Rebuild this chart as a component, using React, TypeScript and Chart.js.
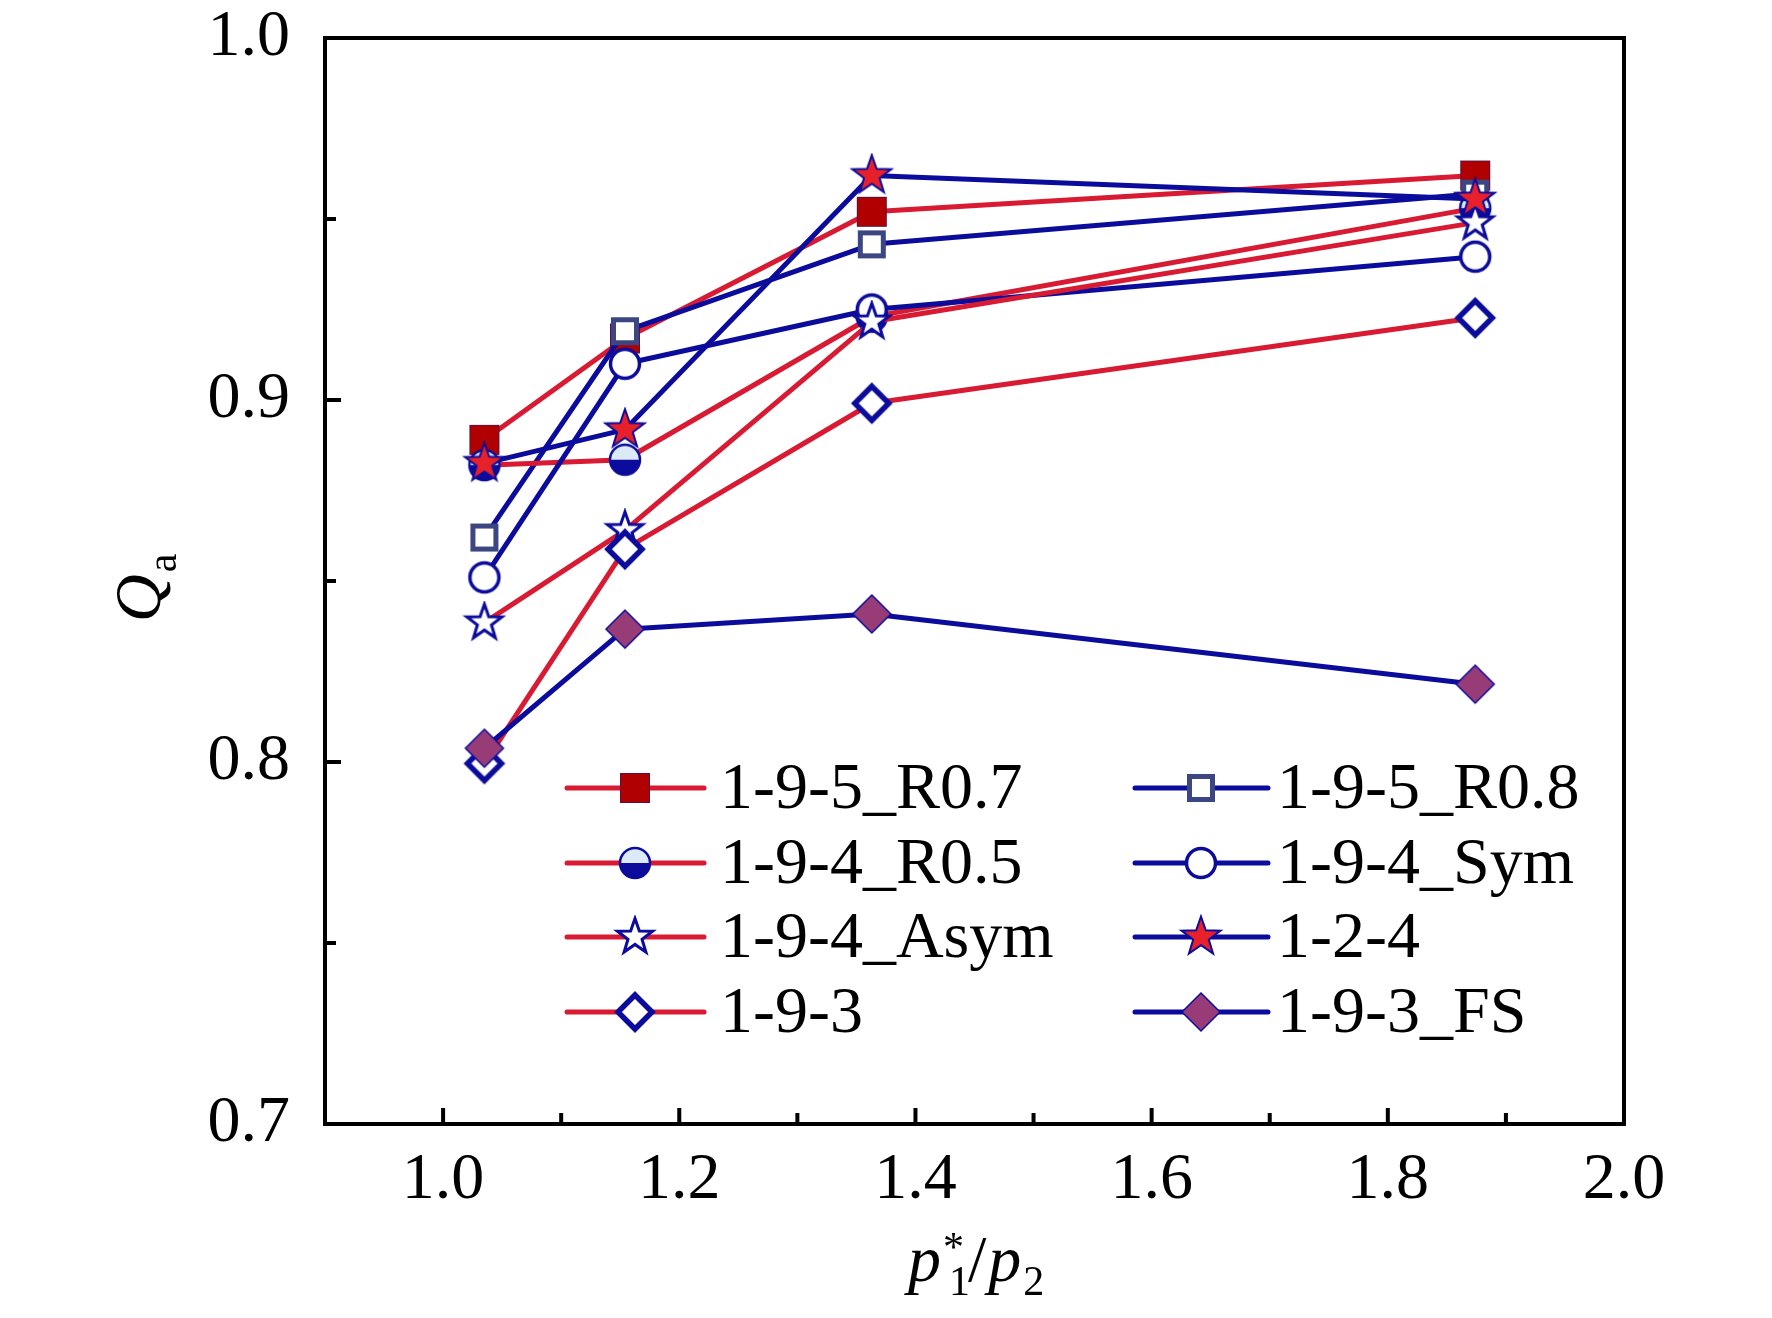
import { useEffect, useRef } from "react"
import { Chart, registerables } from "chart.js"

Chart.register(...registerables)

// datos
const xValues = [1.035, 1.154, 1.363, 1.874]
const seriesNames = ["1-9-5_R0.7", "1-9-5_R0.8", "1-9-4_R0.5", "1-9-4_Sym", "1-9-4_Asym", "1-2-4", "1-9-3", "1-9-3_FS"]
const r07Values = [0.889, 0.917, 0.952, 0.962]
const r08Values = [0.862, 0.919, 0.943, 0.957]
const r05Values = [0.882, 0.8835, 0.923, 0.953]
const symValues = [0.851, 0.91, 0.925, 0.9396]
const asymValues = [0.8385, 0.864, 0.9216, 0.949]
const s124Values = [0.8825, 0.8918, 0.962, 0.9555]
const s193Values = [0.7996, 0.8588, 0.8991, 0.9227]
const fsValues = [0.8038, 0.8367, 0.8409, 0.8215]
const xTicks = [1.0, 1.2, 1.4, 1.6, 1.8, 2.0]
const xMinorTicks = [1.1, 1.3, 1.5, 1.7, 1.9]
const yTicks = [0.7, 0.8, 0.9, 1.0]
const yMinorTicks = [0.75, 0.85, 0.95]

const RED = "#D81A32"
const NAVY = "#0C0C9C"
const FONT = "'Liberation Serif', 'Times New Roman', serif"

function makeMarker(size: number, draw: (ctx: CanvasRenderingContext2D, c: number) => void) {
    const cv = document.createElement("canvas")
    cv.width = size
    cv.height = size
    const ctx = cv.getContext("2d")!
    draw(ctx, size / 2)
    return cv
}

function starPath(ctx: CanvasRenderingContext2D, c: number, R: number) {
    const r = R * 0.4
    ctx.beginPath()
    for (let i = 0; i < 10; i++) {
        const rad = i % 2 === 0 ? R : r
        const a = -Math.PI / 2 + (i * Math.PI) / 5
        ctx.lineTo(c + rad * Math.cos(a), c + rad * Math.sin(a))
    }
    ctx.closePath()
}

function diamondPath(ctx: CanvasRenderingContext2D, c: number, h: number) {
    ctx.beginPath()
    ctx.moveTo(c, c - h)
    ctx.lineTo(c + h, c)
    ctx.lineTo(c, c + h)
    ctx.lineTo(c - h, c)
    ctx.closePath()
}

function buildMarkers() {
    const squareFilled = makeMarker(32, (ctx, c) => {
        ctx.fillStyle = "#B00000"
        ctx.fillRect(c - 14.5, c - 14.5, 29, 29)
        ctx.strokeStyle = "#5A1040"
        ctx.lineWidth = 1
        ctx.strokeRect(c - 14.5, c - 14.5, 29, 29)
    })
    const squareHollow = makeMarker(32, (ctx, c) => {
        ctx.fillStyle = "#fff"
        ctx.fillRect(c - 14, c - 14, 28, 28)
        ctx.strokeStyle = "#3C4682"
        ctx.lineWidth = 5
        ctx.strokeRect(c - 11.5, c - 11.5, 23, 23)
    })
    const halfCircle = makeMarker(36, (ctx, c) => {
        ctx.fillStyle = "#DCEAF8"
        ctx.beginPath()
        ctx.arc(c, c, 15.5, Math.PI, 0)
        ctx.closePath()
        ctx.fill()
        ctx.fillStyle = NAVY
        ctx.beginPath()
        ctx.arc(c, c, 15.5, 0, Math.PI)
        ctx.closePath()
        ctx.fill()
        ctx.strokeStyle = NAVY
        ctx.lineWidth = 2.5
        ctx.beginPath()
        ctx.arc(c, c, 15, 0, Math.PI * 2)
        ctx.stroke()
    })
    const circleHollow = makeMarker(36, (ctx, c) => {
        ctx.fillStyle = "#fff"
        ctx.strokeStyle = NAVY
        ctx.lineWidth = 3.5
        ctx.beginPath()
        ctx.arc(c, c, 14.5, 0, Math.PI * 2)
        ctx.fill()
        ctx.stroke()
    })
    const starHollow = makeMarker(44, (ctx, c) => {
        starPath(ctx, c, 18.5)
        ctx.fillStyle = "#fff"
        ctx.fill()
        ctx.strokeStyle = NAVY
        ctx.lineWidth = 3
        ctx.lineJoin = "miter"
        ctx.stroke()
    })
    const starRed = makeMarker(46, (ctx, c) => {
        starPath(ctx, c, 20.5)
        ctx.fillStyle = "#E8202A"
        ctx.fill()
        ctx.strokeStyle = NAVY
        ctx.lineWidth = 2
        ctx.stroke()
    })
    const diamondHollow = makeMarker(44, (ctx, c) => {
        diamondPath(ctx, c, 17)
        ctx.fillStyle = "#fff"
        ctx.fill()
        ctx.strokeStyle = NAVY
        ctx.lineWidth = 5.5
        ctx.stroke()
    })
    const diamondFilled = makeMarker(44, (ctx, c) => {
        diamondPath(ctx, c, 19)
        ctx.fillStyle = "#983C78"
        ctx.fill()
        ctx.strokeStyle = NAVY
        ctx.lineWidth = 1.5
        ctx.stroke()
    })
    return [squareFilled, squareHollow, halfCircle, circleHollow, starHollow, starRed, diamondHollow, diamondFilled]
}

const legendCols = [
    { lineStart: 567, lineEnd: 704, marker: 635, text: 720 },
    { lineStart: 1135, lineEnd: 1268, marker: 1201, text: 1277 },
]
const legendRows = [788, 863, 937, 1012]

const decorPlugin = {
    id: "decor",
    afterDraw(chart: any) {
        const { ctx, chartArea: a, scales } = chart
        const xs = scales.x
        const ys = scales.y
        ctx.save()
        ctx.strokeStyle = "#000"
        ctx.lineWidth = 4
        ctx.lineCap = "butt"
        ctx.beginPath()
        xTicks.forEach((v) => {
            const px = xs.getPixelForValue(v)
            ctx.moveTo(px, a.bottom)
            ctx.lineTo(px, a.bottom - 16)
        })
        xMinorTicks.forEach((v) => {
            const px = xs.getPixelForValue(v)
            ctx.moveTo(px, a.bottom)
            ctx.lineTo(px, a.bottom - 11)
        })
        yTicks.forEach((v) => {
            const py = ys.getPixelForValue(v)
            ctx.moveTo(a.left, py)
            ctx.lineTo(a.left + 16, py)
        })
        yMinorTicks.forEach((v) => {
            const py = ys.getPixelForValue(v)
            ctx.moveTo(a.left, py)
            ctx.lineTo(a.left + 11, py)
        })
        ctx.stroke()
        ctx.lineJoin = "miter"
        ctx.strokeRect(a.left, a.top, a.right - a.left, a.bottom - a.top)

        // leyenda
        chart.data.datasets.forEach((ds: any, i: number) => {
            const col = legendCols[i % 2]
            const y = legendRows[Math.floor(i / 2)]
            ctx.strokeStyle = ds.borderColor
            ctx.lineWidth = ds.borderWidth
            ctx.lineCap = "round"
            ctx.beginPath()
            ctx.moveTo(col.lineStart, y)
            ctx.lineTo(col.lineEnd, y)
            ctx.stroke()
            const img = ds.pointStyle
            ctx.drawImage(img, col.marker - img.width / 2, y - img.height / 2)
            ctx.fillStyle = "#000"
            ctx.font = `66px ${FONT}`
            ctx.textBaseline = "alphabetic"
            ctx.textAlign = "left"
            ctx.fillText(ds.label, col.text, y + 20)
        })

        // título eje x: p1*/p2
        ctx.fillStyle = "#000"
        ctx.textBaseline = "alphabetic"
        ctx.textAlign = "left"
        const base = 1281
        let x = 908
        ctx.font = `italic 66px ${FONT}`
        ctx.fillText("p", x, base)
        x += ctx.measureText("p").width
        ctx.font = `42px ${FONT}`
        ctx.fillText("*", x + 2, base - 20)
        ctx.fillText("1", x + 8, base + 14)
        x += 8 + ctx.measureText("1").width
        ctx.font = `66px ${FONT}`
        ctx.fillText("/", x - 2, base)
        x += ctx.measureText("/").width
        ctx.font = `italic 66px ${FONT}`
        ctx.fillText("p", x, base)
        x += ctx.measureText("p").width
        ctx.font = `42px ${FONT}`
        ctx.fillText("2", x + 2, base + 14)

        // título eje y: Qa
        ctx.save()
        ctx.translate(160, 622)
        ctx.rotate(-Math.PI / 2)
        ctx.font = `italic 66px ${FONT}`
        ctx.fillText("Q", 0, 0)
        const wq = ctx.measureText("Q").width
        ctx.font = `42px ${FONT}`
        ctx.fillText("a", wq + 2, 16)
        ctx.restore()

        ctx.restore()
    },
}

export default function App() {
    const chartRef = useRef<HTMLCanvasElement>(null)
    const chartInstance = useRef<Chart | null>(null)

    useEffect(() => {
        if (!chartRef.current) return
        if (chartInstance.current) {
            chartInstance.current.destroy()
        }
        const ctx = chartRef.current.getContext("2d")
        if (!ctx) return

        const markers = buildMarkers()
        const allValues = [r07Values, r08Values, r05Values, symValues, asymValues, s124Values, s193Values, fsValues]
        const lineColors = [RED, NAVY, RED, NAVY, RED, NAVY, RED, NAVY]

        const datasets = allValues.map((vals, i) => ({
            label: seriesNames[i],
            data: xValues.map((x, j) => ({ x, y: vals[j] })),
            borderColor: lineColors[i],
            backgroundColor: lineColors[i],
            borderWidth: 5,
            borderCapStyle: "round" as const,
            borderJoinStyle: "round" as const,
            pointStyle: markers[i],
            pointRadius: 10,
            pointHoverRadius: 10,
            tension: 0,
            fill: false,
            order: allValues.length - i,
        }))

        chartInstance.current = new Chart(ctx, {
            type: "line",
            data: { datasets },
            options: {
                responsive: false,
                animation: false,
                events: [],
                layout: { padding: { top: 38, right: 148, left: 0, bottom: 0 } },
                plugins: {
                    legend: { display: false },
                    tooltip: { enabled: false },
                },
                scales: {
                    x: {
                        type: "linear",
                        min: 0.9,
                        max: 2.0,
                        grid: { display: false, drawTicks: false },
                        border: { display: false },
                        afterBuildTicks: (scale: any) => {
                            scale.ticks = xTicks.map((v) => ({ value: v }))
                        },
                        afterFit: (scale: any) => {
                            scale.height = 1318 - 1124
                            scale.paddingLeft = 0
                            scale.paddingRight = 0
                        },
                        ticks: {
                            color: "#000",
                            padding: 24,
                            font: { family: FONT, size: 66, lineHeight: 1 },
                            callback: (v: any) => Number(v).toFixed(1),
                        },
                    },
                    y: {
                        type: "linear",
                        min: 0.7,
                        max: 1.0,
                        grid: { display: false, drawTicks: false },
                        border: { display: false },
                        afterBuildTicks: (scale: any) => {
                            scale.ticks = yTicks.map((v) => ({ value: v }))
                        },
                        afterFit: (scale: any) => {
                            scale.width = 325
                            scale.paddingTop = 0
                            scale.paddingBottom = 0
                        },
                        ticks: {
                            color: "#000",
                            padding: 35,
                            font: { family: FONT, size: 66, lineHeight: 1 },
                            callback: (v: any) => Number(v).toFixed(1),
                        },
                    },
                },
            },
            plugins: [decorPlugin],
        })

        return () => {
            if (chartInstance.current) {
                chartInstance.current.destroy()
                chartInstance.current = null
            }
        }
    }, [])

    return (
        <div style={{ position: "absolute", left: 0, top: 0, width: 1772, height: 1318, background: "#fff" }}>
            <canvas ref={chartRef} width={1772} height={1318} style={{ display: "block" }} />
        </div>
    )
}
